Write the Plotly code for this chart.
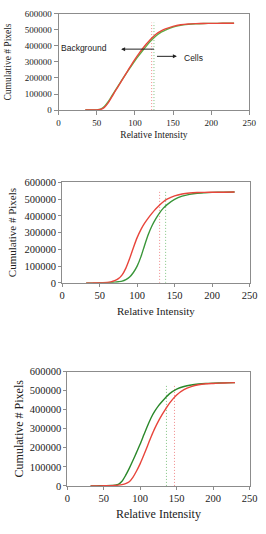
import plotly.graph_objects as go

# ---------------- data ----------------
x1 = [35, 45, 50, 55, 60, 65, 70, 75, 80, 85, 90, 95, 100, 105, 110, 115, 120, 125,
      130, 135, 140, 150, 160, 170, 180, 190, 200, 215, 230]
red1 = [0, 200, 800, 4000, 17000, 45000, 84000, 124000, 162000, 201000, 240000, 279000,
        316000, 350000, 382000, 412000, 439000, 462000, 481000, 495000, 506000, 522000,
        532000, 537000, 539000, 540000, 540500, 541000, 541000]
green1 = [0, 300, 1500, 6000, 22000, 52000, 90000, 128000, 165000, 202000, 238000, 273000,
          307000, 339000, 370000, 399000, 427000, 451000, 471000, 487000, 499000, 517000,
          528000, 534000, 538000, 540000, 540500, 541000, 541000]

x23 = [32, 40, 50, 60, 65, 70, 75, 80, 85, 90, 95, 100, 105, 110, 115, 120, 125, 130,
       135, 140, 150, 160, 170, 180, 190, 200, 215, 230]
red2 = [0, 200, 800, 2500, 6000, 13000, 25000, 48000, 88000, 145000, 210000, 270000, 318000,
        356000, 388000, 416000, 442000, 465000, 484000, 499000, 519000, 530000, 536000,
        539000, 540000, 540500, 541000, 542000]
green2 = [0, 100, 400, 1200, 2500, 4500, 7000, 10000, 19000, 35000, 62000, 100000, 155000,
          225000, 290000, 342000, 383000, 418000, 446000, 467000, 498000, 517000, 528000,
          535000, 538000, 540000, 541000, 542000]
green3 = [0, 200, 700, 2000, 4000, 8000, 24000, 55000, 92000, 133000, 176000, 220000, 268000,
          315000, 358000, 392000, 420000, 443000, 464000, 483000, 508000, 522000, 530000,
          535000, 538000, 539500, 541000, 542000]
red3 = [0, 100, 400, 1200, 2200, 4000, 7000, 12000, 22000, 45000, 78000, 117000, 162000,
        210000, 258000, 302000, 340000, 374000, 405000, 433000, 477000, 505000, 521000,
        531000, 536000, 538000, 540500, 542000]

thresh_red = [122, 130, 147]
thresh_green = [125, 138, 136]
thresh_top = [545000, 545000, 530000]

x_ticks = [0, 50, 100, 150, 200, 250]
y_ticks = [0, 100000, 200000, 300000, 400000, 500000, 600000]

RED = "#e8463c"
GREENS = ["#5cae45", "#3a963a", "#2a882a"]
DOT_RED = "#f08a8a"
DOT_GREEN = "#82c482"
SERIF = "Liberation Serif, Times New Roman, serif"
SANS = "Liberation Sans, Arial, sans-serif"

fig = go.Figure()

panels = [
    (x1, red1, green1),
    (x23, red2, green2),
    (x23, red3, green3),
]
for i, (xs, rs, gs) in enumerate(panels):
    ax = "" if i == 0 else str(i + 1)
    gc = GREENS[i]
    for xv, col in ((thresh_red[i], DOT_RED), (thresh_green[i], DOT_GREEN)):
        fig.add_trace(go.Scatter(x=[xv, xv], y=[0, thresh_top[i]], mode="lines",
                                 line=dict(color=col, width=1, dash="1px,2px"),
                                 xaxis="x" + ax, yaxis="y" + ax, showlegend=False, hoverinfo="skip"))
    fig.add_trace(go.Scatter(x=xs, y=gs, mode="lines",
                             line=dict(color=gc, width=1.4, shape="spline", smoothing=0.7),
                             xaxis="x" + ax, yaxis="y" + ax, showlegend=False, hoverinfo="skip"))
    fig.add_trace(go.Scatter(x=xs, y=rs, mode="lines",
                             line=dict(color=RED, width=1.4, shape="spline", smoothing=0.7),
                             xaxis="x" + ax, yaxis="y" + ax, showlegend=False, hoverinfo="skip"))

# geometry per panel: (x domain, y domain, tick font, title font, y-title standoff, x-title standoff, ticklen)
geo = [
    ([0.218, 0.966], [0.7991, 0.9831], 9, 9.5, 11, 4, 4),
    ([0.232, 0.967], [0.4687, 0.661], 10.5, 11, 5, 6, 3),
    ([0.252, 0.967], [0.0805, 0.299], 10.5, 12, 3, 6, 3),
]
layout = dict(width=266, height=534, margin=dict(l=0, r=0, t=0, b=0),
              paper_bgcolor="white", plot_bgcolor="white")
for i, (xd, yd, tf, ttf, ysd, xsd, tl) in enumerate(geo):
    sfx = "" if i == 0 else str(i + 1)
    layout["xaxis" + sfx] = dict(
        domain=xd, anchor="y" + sfx, range=[0, 250], tickvals=x_ticks,
        showgrid=False, zeroline=False, showline=True, linecolor="#8c8c8c", linewidth=1,
        mirror=True, ticks="outside", ticklen=tl, tickcolor="#8c8c8c",
        tickfont=dict(family=SERIF, size=tf, color="#222"),
        title=dict(text="Relative Intensity", font=dict(family=SERIF, size=ttf, color="#222"),
                   standoff=xsd))
    layout["yaxis" + sfx] = dict(
        domain=yd, anchor="x" + sfx, range=[0, 600000], tickvals=y_ticks,
        tickformat="d", showgrid=False, zeroline=False, showline=True, linecolor="#8c8c8c",
        linewidth=1, mirror=True, ticks="outside", ticklen=tl, tickcolor="#8c8c8c",
        tickfont=dict(family=SERIF, size=tf, color="#222"),
        title=dict(text="Cumulative # Pixels", font=dict(family=SERIF, size=ttf, color="#222"),
                   standoff=ysd))
fig.update_layout(**layout)

# arrows and labels in panel 1
fig.add_annotation(x=82, y=380000, ax=127, ay=380000, xref="x", yref="y", axref="x", ayref="y",
                   text="", showarrow=True, arrowhead=2, arrowsize=0.8, arrowwidth=1, arrowcolor="#222")
fig.add_annotation(x=155, y=335000, ax=127, ay=335000, xref="x", yref="y", axref="x", ayref="y",
                   text="", showarrow=True, arrowhead=2, arrowsize=0.8, arrowwidth=1, arrowcolor="#222")
fig.add_annotation(x=33, y=388000, xref="x", yref="y", text="Background", showarrow=False,
                   font=dict(family=SANS, size=8.5, color="#222"))
fig.add_annotation(x=177, y=325000, xref="x", yref="y", text="Cells", showarrow=False,
                   font=dict(family=SANS, size=8.5, color="#222"))

fig.write_html("out.html")
